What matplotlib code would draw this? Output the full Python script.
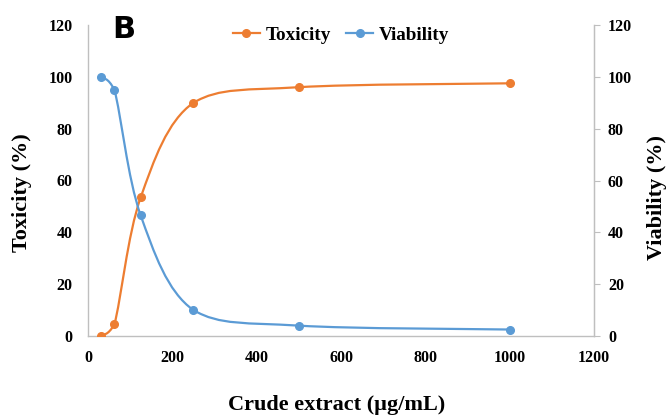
import numpy as np
import matplotlib
matplotlib.use("Agg")
import matplotlib.pyplot as plt
from matplotlib.path import Path
from matplotlib.patches import PathPatch
from matplotlib.lines import Line2D

conc = [31.25, 62.5, 125, 250, 500, 1000]
toxicity = [0, 4.5, 53.5, 90, 96, 97.5]
viability = [100, 95, 46.5, 10, 4, 2.5]
x_ticks = [0, 200, 400, 600, 800, 1000, 1200]
y_ticks = [0, 20, 40, 60, 80, 100, 120]

ORANGE = "#ED7D31"
BLUE = "#5B9BD5"
GRID = "#BFBFBF"
SERIF = "Liberation Serif"

def smooth_path(xs, ys):
    """Catmull-Rom style Bezier smoothing (like spreadsheet smoothed lines),
    with control points kept within each segment's value range."""
    pts = np.column_stack([xs, ys]).astype(float)
    n = len(pts)
    verts = [tuple(pts[0])]
    codes = [Path.MOVETO]
    for i in range(n - 1):
        p0 = pts[i - 1] if i > 0 else pts[i]
        p1 = pts[i]
        p2 = pts[i + 1]
        p3 = pts[i + 2] if i + 2 < n else pts[i + 1]
        c1 = p1 + (p2 - p0) / 6.0
        c2 = p2 - (p3 - p1) / 6.0
        lo, hi = min(p1[1], p2[1]), max(p1[1], p2[1])
        c1[1] = np.clip(c1[1], lo, hi)
        c2[1] = np.clip(c2[1], lo, hi)
        verts += [tuple(c1), tuple(c2), tuple(p2)]
        codes += [Path.CURVE4] * 3
    return Path(verts, codes)

fig = plt.figure(figsize=(6.68, 4.17), dpi=100)
ax = fig.add_axes([88/668, 1 - 336/417, (594-88)/668, (336-25)/417])

for ys, col in [(toxicity, ORANGE), (viability, BLUE)]:
    ax.add_patch(PathPatch(smooth_path(conc, ys), fill=False, edgecolor=col, lw=1.6, zorder=2))
    ax.plot(conc, ys, 'o', color=col, ms=5.5, zorder=3)

ax.set_xlim(0, 1200)
ax.set_ylim(0, 120)
ax.set_xticks(x_ticks)
ax.set_yticks(y_ticks)
ax.spines["top"].set_visible(False)
for s in ["left", "bottom", "right"]:
    ax.spines[s].set_color(GRID)
    ax.spines[s].set_linewidth(1.0)
ax.tick_params(axis="y", length=0, labelsize=11.5, pad=11)
ax.tick_params(axis="x", length=0, labelsize=11.5, pad=10)
for lab in ax.get_xticklabels() + ax.get_yticklabels():
    lab.set_fontfamily(SERIF)
    lab.set_fontweight("bold")

ax2 = ax.twinx()
ax2.set_ylim(0, 120)
ax2.set_yticks(y_ticks)
for s in ["top", "left", "bottom"]:
    ax2.spines[s].set_visible(False)
ax2.spines["right"].set_color(GRID)
ax2.tick_params(axis="y", length=4, color=GRID, labelsize=11.5, pad=6)
for lab in ax2.get_yticklabels():
    lab.set_fontfamily(SERIF)
    lab.set_fontweight("bold")

lab_kw = dict(fontfamily=SERIF, fontweight="bold", fontsize=16)
fig.text(22/668, 1 - 193/417, "Toxicity (%)", rotation=90, ha="center", va="center", **lab_kw)
fig.text(657/668, 1 - 197/417, "Viability (%)", rotation=90, ha="center", va="center", **lab_kw)
fig.text(337/668, 1 - 410/417, "Crude extract (µg/mL)", ha="center", va="baseline", **lab_kw)

handles = [Line2D([], [], color=ORANGE, marker='o', ms=5.5, lw=1.6),
           Line2D([], [], color=BLUE, marker='o', ms=5.5, lw=1.6)]
leg = ax.legend(handles, ["Toxicity", "Viability"], loc="upper center", bbox_to_anchor=(0.5, 1.05),
                ncol=2, frameon=False, prop={"family": SERIF, "weight": "bold", "size": 13.8},
                handlelength=1.4, handletextpad=0.3, columnspacing=0.8)

fig.text(112/668, 1 - 30/417, "B", fontfamily="DejaVu Sans", fontweight="bold", fontsize=22,
         va="center", ha="left")

fig.savefig("out.png", dpi=100)
